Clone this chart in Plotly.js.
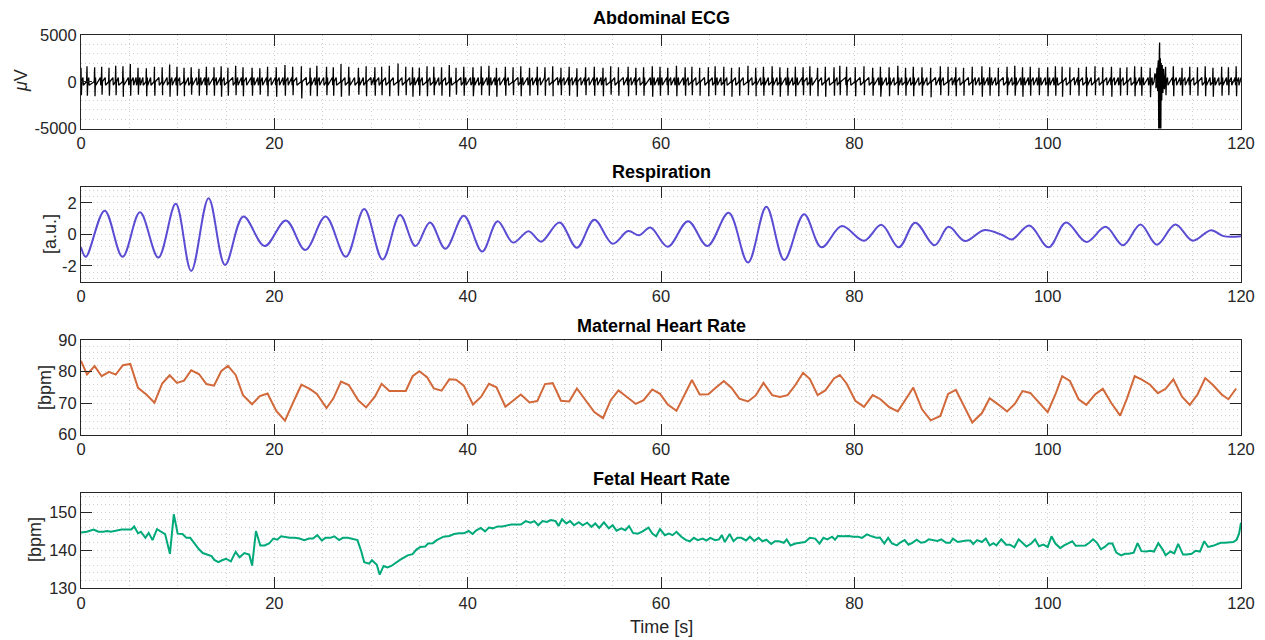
<!DOCTYPE html>
<html>
<head>
<meta charset="utf-8">
<script src="https://cdn.plot.ly/plotly-3.0.1.min.js"></script>
<style>html,body{margin:0;padding:0;background:#fff;}#chart{width:1265px;height:640px;}</style>
</head>
<body>
<div id="chart"></div>
<script>
// ---------- DATA ----------
// Maternal heart rate (beat times [s], bpm)
const mhrTime = [0,0.62,1.41,2.14,2.9,3.59,4.34,5.1,5.9,6.76,7.6,8.4,9.17,9.93,10.66,11.4,12.2,12.97,13.76,14.5,
15.2,16.0,16.76,17.7,18.5,19.3,20.2,21.1,21.9,22.8,23.7,24.4,25.4,26.1,26.9,27.7,28.7,29.5,30.4,31.1,
31.9,32.8,33.6,34.3,35.0,35.8,36.5,37.3,38.1,38.8,39.6,40.55,41.4,42.2,42.98,43.9,44.7,45.5,46.4,47.2,
48.0,48.8,49.65,50.5,51.3,52.2,53.1,54.0,54.8,55.6,56.6,57.4,58.2,59.1,59.9,60.7,61.6,62.5,63.2,64.0,
64.9,65.6,66.5,67.3,68.1,69.0,69.8,70.6,71.5,72.3,73.1,73.9,74.7,75.4,76.2,77.0,77.9,78.5,79.2,80.1,
81.0,81.9,82.7,83.6,84.5,85.3,86.1,87.0,87.9,88.9,89.7,90.5,91.3,92.2,93.2,94.0,94.9,95.8,96.6,97.4,
98.2,99.1,100.0,100.8,101.5,102.3,103.2,104.0,104.9,105.7,106.6,107.5,108.2,109.0,109.7,110.6,111.4,112.2,113.0,113.9,
114.7,115.5,116.3,117.1,118.0,118.7,119.5];
const mhrBpm = [83.4,79.1,81.7,78.5,79.9,79.0,82.0,82.4,74.8,72.7,70.1,76.2,78.8,76.4,77.1,80.4,79.2,76.0,75.5,80.1,
81.8,78.9,72.5,69.6,72.2,73.0,67.5,64.4,69.9,75.8,74.4,72.9,68.4,71.4,76.8,75.7,70.8,68.6,72.0,76.1,
73.8,73.9,73.8,78.5,80.1,78.2,74.6,73.9,77.5,77.4,75.5,69.5,72.0,76.1,75.0,68.8,70.8,72.7,70.2,70.6,
76.0,76.3,70.7,70.5,74.6,70.8,67.1,65.2,70.9,74.0,71.7,69.7,70.9,74.3,72.9,69.5,67.5,72.8,77.3,72.7,
72.8,74.7,77.0,74.8,71.4,70.5,72.4,76.4,72.5,71.9,72.5,75.7,79.6,77.6,72.5,74.0,77.8,78.9,76.2,70.7,
68.8,72.5,71.2,68.7,67.3,71.1,74.9,68.0,64.5,65.9,72.9,74.2,69.5,63.8,66.8,71.5,69.5,67.3,69.7,73.8,
73.2,70.1,67.1,72.7,78.5,77.0,71.2,69.4,72.7,74.5,69.9,66.0,71.4,78.5,77.5,75.8,73.1,74.5,77.5,72.0,
69.4,72.7,77.9,75.7,72.7,71.2,74.6];

// Fetal heart rate (beat times [s], bpm)
const fhrTime = [0,0.6,1.3,1.8,2.3,2.7,3.1,3.66,4.2,4.7,5.2,5.5,5.9,6.2,6.66,7.0,7.4,7.86,8.24,8.7,
9.2,9.6,10.0,10.5,10.9,11.3,11.76,12.2,12.6,13.0,13.5,13.8,14.2,14.6,15.0,15.5,16.0,16.4,16.9,17.4,
17.7,18.1,18.55,19.0,19.45,19.9,20.3,20.7,21.2,21.6,22.1,22.6,23.1,23.6,24.0,24.45,24.9,25.3,25.8,26.2,
26.7,27.1,27.6,28.1,28.6,29.0,29.3,29.8,30.1,30.6,30.9,31.3,31.7,32.1,32.6,33.0,33.4,33.8,34.3,34.7,
35.1,35.6,35.9,36.4,36.8,37.5,38.1,38.6,39.1,39.6,40.1,40.5,40.9,41.35,41.8,42.2,42.6,43.1,43.6,44.0,
44.5,45.0,45.5,46.0,46.5,46.9,47.3,47.75,48.2,48.6,49.1,49.4,49.76,50.2,50.6,51.0,51.5,51.9,52.35,52.8,
53.2,53.6,54.1,54.6,55.0,55.4,55.9,56.3,56.7,57.1,57.6,58.1,58.7,59.1,59.5,59.9,60.4,60.8,61.2,61.6,
62.1,62.6,63.0,63.4,63.8,64.3,64.7,65.1,65.6,66.0,66.3,66.6,67.1,67.5,67.9,68.3,68.8,69.2,69.65,70.1,
70.5,70.9,71.4,71.8,72.2,72.7,73.0,73.4,73.9,74.4,74.9,75.4,75.95,76.4,76.8,77.2,77.7,78.0,78.3,78.9,
79.4,79.9,80.4,80.8,81.3,81.8,82.3,82.65,83.1,83.5,83.9,84.4,84.7,85.2,85.6,86.0,86.45,86.9,87.3,87.7,
88.2,88.6,89.0,89.5,89.9,90.2,90.7,91.1,91.6,92.0,92.3,92.7,93.2,93.6,94.0,94.4,94.7,95.2,95.7,96.1,
96.55,97.0,97.4,97.8,98.3,98.7,99.1,99.55,100.0,100.4,100.8,101.3,101.7,102.1,102.55,102.9,103.4,103.9,104.3,104.7,
105.1,105.5,105.9,106.3,106.7,107.1,107.6,108.0,108.4,108.9,109.3,109.7,110.2,110.6,111.0,111.45,111.9,112.2,112.7,113.1,
113.5,114.0,114.4,114.9,115.3,115.75,116.2,116.6,117.1,117.5,117.9,118.3,118.8,119.2,119.55,119.8,120.0];
const fhrBpm = [144.6,144.8,145.4,144.8,144.8,145.0,144.8,145.2,145.4,145.4,145.4,146.2,144.4,144.8,143.2,144.5,142.6,145.5,145.0,144.2,
139.0,149.4,144.3,144.2,143.2,143.2,141.7,140.2,139.2,138.8,138.4,137.4,136.8,137.3,137.7,137.0,139.5,138.1,139.2,138.8,
135.9,145.0,141.2,141.2,141.7,143.0,142.7,143.6,143.3,143.2,143.2,143.0,142.6,143.0,143.0,143.9,142.5,143.2,143.2,143.6,
142.6,143.2,143.2,143.0,142.6,139.6,136.8,136.4,137.3,136.1,133.5,135.8,135.4,135.8,136.8,137.4,138.0,138.6,138.9,140.1,
140.8,140.9,141.7,141.8,142.6,143.5,143.7,144.2,144.4,144.4,145.0,144.2,145.2,145.8,144.9,145.9,145.7,146.2,146.2,146.5,
146.7,146.7,146.7,147.6,147.2,147.6,146.5,147.6,147.4,147.9,147.6,146.3,148.1,147.0,147.6,146.5,147.3,146.5,147.2,146.1,
147.0,145.8,147.3,145.7,146.5,145.1,145.7,145.2,146.3,144.5,144.3,144.9,145.9,144.3,143.6,145.5,143.9,144.3,143.9,144.8,
143.5,142.6,142.3,143.2,142.6,143.0,142.5,143.2,142.6,142.8,143.9,142.1,144.2,142.3,143.2,143.2,142.5,143.5,142.4,143.2,
142.3,142.7,141.6,142.3,142.3,141.9,142.8,141.2,141.7,141.9,142.1,143.2,143.0,141.7,143.2,142.8,143.5,142.7,143.7,143.6,
143.7,143.5,143.5,143.2,144.1,143.6,143.2,143.3,141.7,143.2,141.7,141.2,141.9,142.6,141.4,141.9,142.7,141.9,142.1,142.8,
142.6,142.4,142.8,141.9,141.9,143.0,142.1,142.3,142.5,142.5,141.6,142.6,142.1,143.0,141.2,141.8,141.2,142.8,141.4,141.4,
140.7,142.8,141.9,140.9,141.7,142.8,141.0,141.4,140.8,143.6,141.7,140.5,141.2,141.7,142.3,141.1,141.2,141.2,141.9,142.8,
141.9,140.2,140.8,141.7,141.7,139.3,138.6,139.0,139.0,139.3,141.8,139.7,139.6,139.8,139.6,141.8,140.1,138.6,139.6,139.1,
141.6,138.8,138.8,139.0,139.8,139.6,142.3,140.8,141.1,141.6,141.9,141.9,142.1,142.1,142.7,144.3,147.2];

// Respiration: turning points (time [s], a.u.)
const respTime = [0,0.5,2.45,4.3,6.1,8.0,9.8,11.4,13.2,14.9,16.8,19.0,21.2,23.2,25.3,27.4,29.3,31.2,33.0,34.6,
36.1,37.7,39.6,41.5,43.1,44.7,46.3,47.6,49.5,51.3,53.1,55.0,56.6,57.75,58.9,60.7,62.8,64.8,67.0,69.0,
70.9,72.75,74.8,76.6,78.7,81.0,82.8,84.6,86.3,88.3,89.75,91.45,93.4,95.3,96.3,98.1,100.1,101.9,104.0,106.0,
107.8,109.6,111.3,113.2,115.0,116.9,118.2,120];
const respVal = [-0.83,-1.43,1.5,-1.43,1.39,-1.48,1.93,-2.33,2.29,-1.95,1.13,-0.75,0.88,-1.0,1.13,-1.43,1.6,-1.6,1.22,-0.75,
0.75,-0.92,1.18,-1.09,0.83,-0.53,0.19,-0.47,0.75,-0.86,0.92,-0.6,0.2,-0.07,0.43,-0.79,0.83,-0.75,1.36,-1.8,
1.74,-1.63,1.27,-0.83,0.52,-0.41,0.6,-0.83,0.73,-0.7,0.47,-0.43,0.26,-0.05,-0.33,0.56,-0.83,0.75,-0.49,0.47,
-0.7,0.62,-0.66,0.62,-0.41,0.26,-0.12,-0.12];

// Abdominal ECG: maternal QRS peaks at the maternal beat times (µV)
const ecgBeatTime = mhrTime;
const ecgUp = [1500,1650,1550,1600,1500,1700,1650,1900,1500,1450,1600,1550,1850,1600,1500,1550,1400,1600,1550,1650,
1500,1700,1550,1500,1450,1600,1550,1800,1600,1650,1500,1700,1600,1550,1900,1600,1500,1650,1550,1600,
1700,1950,1600,1550,1500,1650,1600,1550,1800,1500,1600,1550,1650,1700,1500,1600,1550,1650,1500,1600,
1550,1650,1500,1600,1450,1550,1600,1500,1650,1550,1600,1500,1550,1650,1600,1500,1700,1550,1600,1500,
1550,1650,1600,1500,1550,1700,1500,1600,1650,1550,1500,1600,1550,1650,1500,1600,1550,1700,1600,1550,
1650,1500,1600,1550,1700,1500,1600,1550,1500,1650,1600,1550,1500,1600,1650,1550,1500,1600,1700,1550,
1600,1500,1550,1650,1600,1550,1500,1600,1650,1550,1600,1500,1550,1650,1600,1500,1550,1600,1650,1500,
1600,1550,1650,1500,1600,1550,1650];
const ecgDown = [-1450,-1500,-1550,-1400,-1500,-1450,-1600,-1500,-1400,-1550,-1500,-1450,-1600,-1500,-1550,-1400,-1500,-1450,-1500,-1600,
-1500,-1450,-1550,-1500,-1400,-1550,-1600,-1500,-1450,-1800,-1500,-1550,-1450,-1500,-1600,-1500,-1400,-1550,-1500,-1450,
-1550,-1500,-1450,-1600,-1500,-1550,-1450,-1500,-1600,-1400,-1500,-1550,-1450,-1500,-1600,-1500,-1450,-1550,-1500,-1450,
-1500,-1550,-1450,-1500,-1600,-1450,-1500,-1550,-1400,-1500,-1550,-1450,-1500,-1600,-1500,-1450,-1550,-1500,-1450,-1500,
-1550,-1450,-1500,-1600,-1500,-1450,-1550,-1500,-1450,-1600,-1500,-1550,-1450,-1500,-1550,-1600,-1500,-1450,-1500,-1550,
-1450,-1500,-1600,-1550,-1450,-1500,-1550,-1500,-1650,-1450,-1500,-1550,-1500,-1450,-1600,-1500,-1550,-1450,-1500,-1600,
-1500,-1450,-1550,-1500,-1600,-1450,-1500,-1550,-1450,-1500,-1600,-1500,-1450,-1550,-1500,-1650,-1500,-1450,-1550,-1500,
-1450,-1500,-1550,-1600,-1500,-1450,-1550];
// fetal complexes (at the fetal beat times) seen as the baseline band
const ecgFetalUp = 450;
const ecgFetalDown = -380;
// motion artefact near 111.5 s
const artTime = [111.0,111.1,111.2,111.3,111.38,111.45,111.5,111.55,111.58,111.62,111.66,111.7,111.74,111.8,111.85,111.92,112.0,112.08,112.15,112.25];
const artVal  = [0,900,-700,1500,-1000,2300,-6500,3000,4200,-6500,2500,-6500,2000,-2000,1800,-1200,1400,-800,700,300];

// Axis ticks
const xTicks = [0,20,40,60,80,100,120];
const ecgTicks = [-5000,0,5000], ecgTickText = ['-5000','0','5000'];
const respTicks = [-2,0,2], respTickText = ['-2','0','2'];
const mhrTicks = [60,70,80,90];
const fhrTicks = [130,140,150];

// ---------- BUILD ECG LINE ----------
const ecgPts = [];
ecgBeatTime.forEach((t,i)=>{
  ecgPts.push([t-0.04,0],[t,ecgUp[i]],[t+0.04,ecgDown[i]],[t+0.08,0]);
});
fhrTime.forEach(t=>{ ecgPts.push([t+0.2,ecgFetalUp],[t+0.24,ecgFetalDown]); });
artTime.forEach((t,i)=>ecgPts.push([t,artVal[i]]));
ecgPts.sort((a,b)=>a[0]-b[0]);
const ecgIn = ecgPts.filter(p=>p[0]>=0&&p[0]<=120);
const ecgX = ecgIn.map(p=>p[0]);
const ecgY = ecgIn.map(p=>p[1]);

// ---------- LAYOUT ----------
const W=1265,H=640,L=81,R=24,T=35,B=52;
const pw=W-L-R, ph=H-T-B;
const fy = py => (H-B-py)/ph;
const fx = px => (px-L)/pw;
const FONT='"Liberation Sans", Arial, Helvetica, sans-serif';
const AX='#262626', GRID='#cfcfcf', DASH='1px,3px';

function xa(anchor){
  return {anchor:anchor, domain:[0,1], range:[0,120], tickmode:'array', tickvals:xTicks,
    ticks:'inside', ticklen:11, tickcolor:AX, showline:true, linecolor:AX, linewidth:1, mirror:'ticks',
    showgrid:true, gridcolor:GRID, griddash:DASH, gridwidth:1, zeroline:false,
    minor:{dtick:5, tick0:0, showgrid:true, gridcolor:GRID, griddash:DASH, gridwidth:1, ticks:''},
    tickfont:{family:FONT,size:16.5,color:AX}, fixedrange:true};
}
function ya(anchor,dom,range,vals,text,minor,tick0){
  const o = {anchor:anchor, domain:dom, range:range, tickmode:'array', tickvals:vals,
    ticks:'inside', ticklen:11, tickcolor:AX, showline:true, linecolor:AX, linewidth:1, mirror:'ticks',
    showgrid:true, gridcolor:GRID, griddash:DASH, gridwidth:1, zeroline:false,
    minor:{dtick:minor, tick0:tick0, showgrid:true, gridcolor:GRID, griddash:DASH, gridwidth:1, ticks:''},
    tickfont:{family:FONT,size:16.5,color:AX}, fixedrange:true};
  if(text) o.ticktext=text;
  return o;
}

const traces = [
  {x:ecgX, y:ecgY, xaxis:'x', yaxis:'y', mode:'lines', line:{color:'#000000', width:1.3}, hoverinfo:'skip'},
  {x:respTime, y:respVal, xaxis:'x2', yaxis:'y2', mode:'lines', line:{color:'#5A4DD3', width:2, shape:'spline', smoothing:1}, hoverinfo:'skip'},
  {x:mhrTime, y:mhrBpm, xaxis:'x3', yaxis:'y3', mode:'lines', line:{color:'#D2693B', width:2}, hoverinfo:'skip'},
  {x:fhrTime, y:fhrBpm, xaxis:'x4', yaxis:'y4', mode:'lines', line:{color:'#00A97A', width:2}, hoverinfo:'skip'}
];

const titleFont = {family:FONT, size:18, color:'#000000'};
const labFont = {family:FONT, size:18, color:AX};
function ann(text,px,py,font,angle){
  return {text:text, xref:'paper', yref:'paper', x:fx(px), y:fy(py), xanchor:'center', yanchor:'middle',
    showarrow:false, font:font, textangle:angle||0};
}

const layout = {
  width:W, height:H, margin:{l:L,r:R,t:T,b:B}, paper_bgcolor:'#ffffff', plot_bgcolor:'#ffffff',
  showlegend:false,
  xaxis:xa('y'), xaxis2:xa('y2'), xaxis3:xa('y3'), xaxis4:xa('y4'),
  yaxis: ya('x',[fy(128.5),fy(35)],[-5000,5000],ecgTicks,ecgTickText,1000,0),
  yaxis2:ya('x2',[fy(281.5),fy(187)],[-3,3],respTicks,respTickText,0.4,0),
  yaxis3:ya('x3',[fy(434.5),fy(340)],[60,90],mhrTicks,null,2,60),
  yaxis4:ya('x4',[fy(588),fy(493)],[130,155],fhrTicks,null,2,130),
  annotations:[
    ann('<b>Abdominal ECG</b>',661,18,titleFont),
    ann('<b>Respiration</b>',661,172,titleFont),
    ann('<b>Maternal Heart Rate</b>',661,326,titleFont),
    ann('<b>Fetal Heart Rate</b>',661,479,titleFont),
    ann('<i>μ</i>V',21,81,labFont,-90),
    ann('[a.u.]',50,234,labFont,-90),
    ann('[bpm]',45,388,labFont,-90),
    ann('[bpm]',35,540,labFont,-90),
    ann('Time [s]',661,627,labFont)
  ]
};

Plotly.newPlot('chart', traces, layout, {staticPlot:true, displayModeBar:false});
</script>
</body>
</html>
